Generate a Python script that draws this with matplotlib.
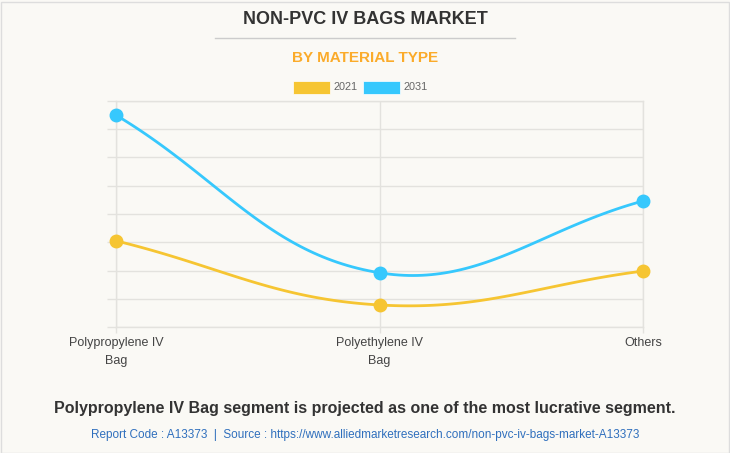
import numpy as np
import matplotlib.pyplot as plt
from matplotlib.patches import Rectangle
from matplotlib.lines import Line2D

categories = ["Polypropylene IV\nBag", "Polyethylene IV\nBag", "Others"]
years = ["2021", "2031"]
values_2021 = [305, 78, 198]
values_2031 = [750, 192, 446]

colors = {"2021": "#f6c532", "2031": "#36c8fd"}
bg = "#faf9f5"
grid_c = "#e3e2de"

plt.rcParams['font.family'] = ['Liberation Sans', 'DejaVu Sans']

fig = plt.figure(figsize=(7.3, 4.53), dpi=100, facecolor=bg)
W, H = 730, 453


def fx(px):
    return px / W


def fy(py):
    return 1 - py / H


ax = fig.add_axes([fx(116), fy(327), (643 - 116) / W, (327 - 101) / H])
ax.set_facecolor(bg)
ax.set_xlim(0, len(categories) - 1)
ax.set_ylim(0, 800)
ax.set_yticks(np.arange(0, 801, 100))
ax.set_yticklabels([])
ax.set_xticks(range(len(categories)))
ax.set_xticklabels(categories, fontsize=9, color="#444444", linespacing=1.75)
ax.tick_params(axis='y', length=6.5, color=grid_c, width=1)
ax.tick_params(axis='x', length=4, color=grid_c, width=1, pad=3)
ax.grid(True, color=grid_c, linewidth=1)
ax.set_axisbelow(True)
for s in ax.spines.values():
    s.set_color(grid_c)
    s.set_linewidth(1)


def spline(xs, ys, t=0.4):
    # chart.js style bezier through points, computed in pixel space
    pts = ax.transData.transform(np.column_stack([xs, ys]))
    n = len(pts)
    cps = []
    for i in range(n):
        prev = pts[i - 1] if i > 0 else pts[i]
        cur = pts[i]
        nxt = pts[i + 1] if i < n - 1 else pts[i]
        d01 = np.hypot(*(cur - prev))
        d12 = np.hypot(*(nxt - cur))
        tot = d01 + d12
        s01 = d01 / tot if tot else 0
        s12 = d12 / tot if tot else 0
        cps.append((cur - t * s01 * (nxt - prev), cur + t * s12 * (nxt - prev)))
    out = []
    tt = np.linspace(0, 1, 60)[:, None]
    for i in range(n - 1):
        p0, p3 = pts[i], pts[i + 1]
        p1, p2 = cps[i][1], cps[i + 1][0]
        seg = ((1 - tt) ** 3) * p0 + 3 * ((1 - tt) ** 2) * tt * p1 + 3 * (1 - tt) * tt ** 2 * p2 + tt ** 3 * p3
        out.append(seg)
    out = np.vstack(out)
    return ax.transData.inverted().transform(out)


xs = np.arange(len(categories))
for yr, vals in zip(years, [values_2021, values_2031]):
    curve = spline(xs, vals)
    ax.plot(curve[:, 0], curve[:, 1], color=colors[yr], linewidth=2, clip_on=False, zorder=3)
    ax.plot(xs, vals, 'o', color=colors[yr], markersize=9, clip_on=False, zorder=4)

# titles
fig.text(0.5, fy(20), "NON-PVC IV BAGS MARKET", ha='center', va='center',
         fontsize=13, fontweight='bold', color="#333333")
fig.add_artist(Line2D([fx(215), fx(515)], [fy(37.5), fy(37.5)], color="#cccccc", linewidth=1))
fig.text(0.5, fy(58), "BY MATERIAL TYPE", ha='center', va='center',
         fontsize=11, fontweight='bold', color="#fbab2a")

# legend
for yr, x0 in zip(years, [293, 363]):
    fig.add_artist(Rectangle((fx(x0), fy(94)), 37 / W, 13 / H, facecolor=colors[yr],
                             edgecolor='white', linewidth=0.5))
    fig.text(fx(x0 + 41), fy(87.5), yr, ha='left', va='center', fontsize=7.8, color="#666666")

fig.text(0.5, fy(408), "Polypropylene IV Bag segment is projected as one of the most lucrative segment.",
         ha='center', va='center', fontsize=11.5, fontweight='bold', color="#333333")
fig.text(0.5, fy(435),
         "Report Code : A13373  |  Source : https://www.alliedmarketresearch.com/non-pvc-iv-bags-market-A13373",
         ha='center', va='center', fontsize=8.5, color="#2f6fbd")

# outer frame
fig.add_artist(Rectangle((0.5 / W, 0.5 / H), 1 - 2 / W, 1 - 2 / H, fill=False,
                         edgecolor="#dddddd", linewidth=1))

fig.savefig("out.png", dpi=100, facecolor=bg)
